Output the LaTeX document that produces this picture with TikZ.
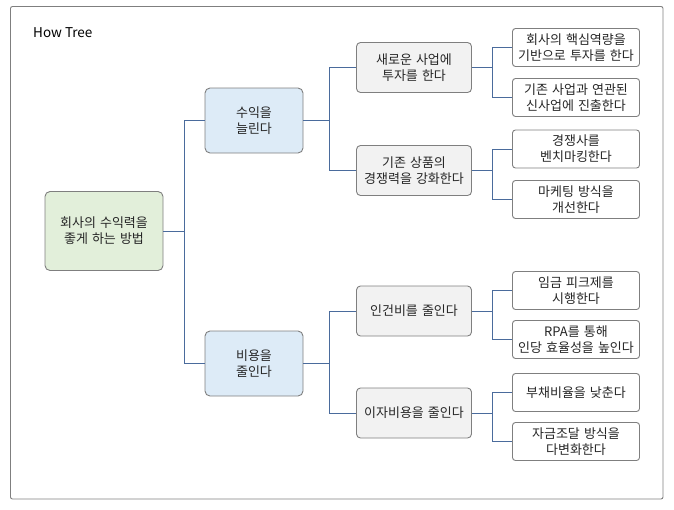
\documentclass[tikz,border=0pt]{standalone}
\usepackage{fontspec}
\setmainfont{Noto Sans CJK KR}[WordSpace=1.4]
\newfontfamily\titlefont{Noto Sans CJK KR}
\definecolor{boxline}{HTML}{7F7F7F}
\definecolor{conn}{HTML}{4A6B9C}
\definecolor{rootfill}{HTML}{E2EFDA}
\definecolor{lonefill}{HTML}{DDEBF7}
\definecolor{ltwofill}{HTML}{F2F2F2}
\definecolor{txt}{HTML}{262626}
\begin{document}
\begin{tikzpicture}[x=1pt,y=-1pt,
  base/.style={draw=boxline, line width=0.9pt, align=center, text=txt,
    font=\fontsize{13}{16}\selectfont, inner sep=0pt},
  rootbox/.style={base, fill=rootfill, rounded corners=5pt, minimum width=118pt, minimum height=79pt},
  lonebox/.style={base, fill=lonefill, rounded corners=5pt, minimum width=98pt, minimum height=65pt},
  ltwobox/.style={base, fill=ltwofill, rounded corners=4pt, minimum width=115pt, minimum height=50pt},
  lthreebox/.style={base, fill=white, rounded corners=3pt, minimum width=127pt, minimum height=38pt},
  conline/.style={draw=conn, line width=0.9pt}]
\useasboundingbox (0,0) rectangle (674,509);
\draw[boxline, line width=0.9pt, rounded corners=2pt] (10.5,6.5) rectangle (663,499);
\node[anchor=west, inner sep=0pt, text=black, font=\titlefont\fontsize{13.5}{15}\selectfont] (title) at (33,33) {How Tree};

\node[rootbox] (root) at (104,231) {회사의 수익력을\\좋게 하는 방법};

\node[lonebox] (la) at (254,120.5) {수익을\\늘린다};
\node[lonebox] (lb) at (254,363.5) {비용을\\줄인다};

\node[ltwobox] (laa) at (414,67.5) {새로운 사업에\\투자를 한다};
\node[ltwobox] (lab) at (414,170.5) {기존 상품의\\경쟁력을 강화한다};
\node[ltwobox] (lba) at (414,311) {인건비를 줄인다};
\node[ltwobox] (lbb) at (414,413) {이자비용을 줄인다};

\node[lthreebox] (a1) at (576,47.5) {회사의 핵심역량을\\기반으로 투자를 한다};
\node[lthreebox] (a2) at (576,97.5) {기존 사업과 연관된\\신사업에 진출한다};
\node[lthreebox] (a3) at (576,149) {경쟁사를\\벤치마킹한다};
\node[lthreebox] (a4) at (576,199.5) {마케팅 방식을\\개선한다};
\node[lthreebox] (b1) at (576,290.5) {임금 피크제를\\시행한다};
\node[lthreebox] (b2) at (576,339.5) {RPA를 통해\\인당 효율성을 높인다};
\node[lthreebox] (b3) at (576,392.5) {부채비율을 낮춘다};
\node[lthreebox] (b4) at (576,441.5) {자금조달 방식을\\다변화한다};

\draw[conline] (root.east) -- ++(21,0) |- (la.west);
\draw[conline] (root.east) -- ++(21,0) |- (lb.west);

\draw[conline] (la.east) -- ++(26,0) |- (laa.west);
\draw[conline] (la.east) -- ++(26,0) |- (lab.west);
\draw[conline] (lb.east) -- ++(26,0) |- (lba.west);
\draw[conline] (lb.east) -- ++(26,0) |- (lbb.west);

\draw[conline] (laa.east) -- ++(20.5,0) |- (a1.west);
\draw[conline] (laa.east) -- ++(20.5,0) |- (a2.west);
\draw[conline] (lab.east) -- ++(20.5,0) |- (a3.west);
\draw[conline] (lab.east) -- ++(20.5,0) |- (a4.west);
\draw[conline] (lba.east) -- ++(20.5,0) |- (b1.west);
\draw[conline] (lba.east) -- ++(20.5,0) |- (b2.west);
\draw[conline] (lbb.east) -- ++(20.5,0) |- (b3.west);
\draw[conline] (lbb.east) -- ++(20.5,0) |- (b4.west);
\end{tikzpicture}
\end{document}
